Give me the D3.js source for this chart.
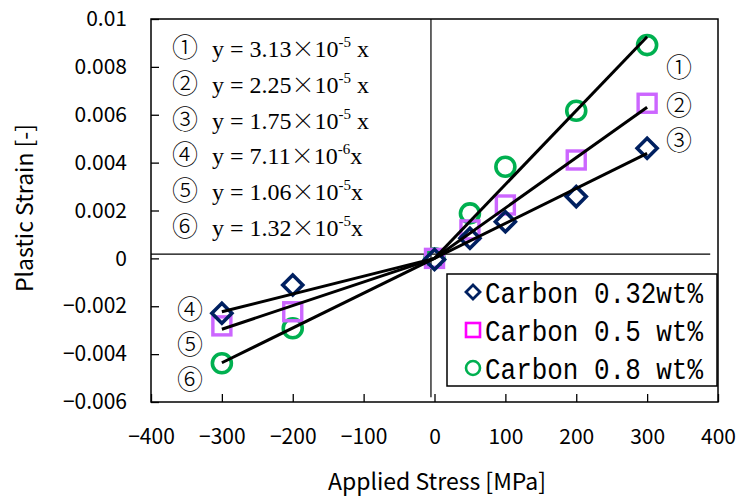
<!DOCTYPE html>
<html><head><meta charset="utf-8">
<script src="https://cdn.jsdelivr.net/npm/d3@7"></script>
<style>body{margin:0;background:#fff}svg{display:block}</style>
</head><body><svg id="c" width="740" height="500"></svg>
<script>
// ---- data ----
const stress = [-300, -200, 0, 50, 100, 200, 300];
const seriesNames = ["Carbon 0.32wt%", "Carbon 0.5 wt%", "Carbon 0.8 wt%"];
const strain032 = [-0.00229, -0.00111, -0.00005, 0.00084, 0.00153, 0.00258, 0.00460];
const strain05  = [-0.00282, -0.00223, 0.0, 0.00119, 0.00223, 0.00411, 0.00648];
const strain08  = [-0.00438, -0.00292, 0.0, 0.00188, 0.00383, 0.00617, 0.00891];
// fit lines (end points)
const fitStartX = [0, 0, 0, -300, -300, -300];
const fitStartY = [0, 0, 0, -0.00223, -0.00296, -0.00436];
const fitEndX   = [300, 300, 300, 0, 0, 0];
const fitEndY   = [0.00926, 0.00631, 0.00439, 0, 0, 0];
const fitLabels = ["①", "②", "③", "④", "⑤", "⑥"];
const fitLabelX = [345, 345, 345, -345, -345, -345];
const fitLabelY = [0.00805, 0.00645, 0.00500, -0.00205, -0.00350, -0.00497];
const eqCoef = ["3.13", "2.25", "1.75", "7.11", "1.06", "1.32"];
const eqExp  = ["-5", "-5", "-5", "-6", "-5", "-5"];
const eqSpace = [true, true, true, false, false, false];
const xTicks = [-400, -300, -200, -100, 0, 100, 200, 300, 400];
const yTicks = [-0.006, -0.004, -0.002, 0, 0.002, 0.004, 0.006, 0.008, 0.01];
const crossX = -5, crossY = 0.00018;
const xTitle = "Applied Stress [MPa]", yTitle = "Plastic Strain [-]";

// ---- chart ----
const svg = d3.select("#c");
const L = 151, R = 718, T = 19, B = 402;
const x = d3.scaleLinear().domain([-400, 400]).range([L, R]);
const y = d3.scaleLinear().domain([-0.006, 0.01]).range([B, T]);
const sans = "'Noto Sans CJK JP', 'Noto Sans', sans-serif";
const cjk = "'Noto Sans CJK JP', 'DejaVu Sans', sans-serif";
const serif = "'Liberation Serif', 'Times New Roman', serif";

// cross lines
svg.append("line").attr("x1", x(-400)).attr("x2", x(389)).attr("y1", y(crossY)).attr("y2", y(crossY))
  .attr("stroke", "#000").attr("stroke-width", 1.2);
svg.append("line").attr("x1", x(crossX)).attr("x2", x(crossX)).attr("y1", y(0.01)).attr("y2", y(-0.0058))
  .attr("stroke", "#000").attr("stroke-width", 1.2);

// axes
const fmtX = d => (d < 0 ? "\u2212" + Math.abs(d) : String(d));
const fmtY = d => d === 0 ? "0" : (d < 0 ? "\u2212" : "") + String(+Math.abs(d).toFixed(3));
const gx = svg.append("g").attr("transform", `translate(0,${B})`)
  .call(d3.axisBottom(x).tickValues(xTicks).tickSize(-8).tickPadding(27).tickFormat(fmtX));
const gy = svg.append("g").attr("transform", `translate(${L},0)`)
  .call(d3.axisLeft(y).tickValues(yTicks).tickSize(-8).tickPadding(24).tickFormat(fmtY));
[gx, gy].forEach(g => {
  g.select(".domain").remove();
  g.selectAll(".tick line").attr("stroke", "#000").attr("stroke-width", 1.3);
  g.selectAll(".tick text").attr("fill", "#000").style("font-family", sans).style("font-size", "21px");
});
// plot frame
svg.append("rect").attr("x", L).attr("y", T).attr("width", R - L).attr("height", B - T)
  .attr("fill", "none").attr("stroke", "#000").attr("stroke-width", 1.5);

// markers
const gm = svg.append("g");
gm.selectAll("circle.c08").data(stress).enter().append("circle")
  .attr("cx", d => x(d)).attr("cy", (d, i) => y(strain08[i])).attr("r", 9.5)
  .attr("fill", "none").attr("stroke", "#00b050").attr("stroke-width", 3.6);
gm.selectAll("rect.s05").data(stress).enter().append("rect")
  .attr("x", d => x(d) - 9).attr("y", (d, i) => y(strain05[i]) - 9).attr("width", 18).attr("height", 18)
  .attr("fill", "none").attr("stroke", "#cc66ff").attr("stroke-width", 3.4);
gm.selectAll("path.d032").data(stress).enter().append("path")
  .attr("d", "M0,-10L10,0L0,10L-10,0Z")
  .attr("transform", (d, i) => `translate(${x(d)},${y(strain032[i])})`)
  .attr("fill", "none").attr("stroke", "#002060").attr("stroke-width", 3.6);

// fit lines
svg.append("g").selectAll("line").data(fitLabels).enter().append("line")
  .attr("x1", (d, i) => x(fitStartX[i])).attr("y1", (d, i) => y(fitStartY[i]))
  .attr("x2", (d, i) => x(fitEndX[i])).attr("y2", (d, i) => y(fitEndY[i]))
  .attr("stroke", "#000").attr("stroke-width", 3);

// line labels
svg.append("g").selectAll("text").data(fitLabels).enter().append("text")
  .attr("x", (d, i) => x(fitLabelX[i])).attr("y", (d, i) => y(fitLabelY[i]))
  .attr("text-anchor", "middle").attr("dominant-baseline", "central")
  .style("font-family", cjk).style("font-size", "26px").style("font-weight", 300)
  .text(d => d);

// equations
fitLabels.forEach((lab, i) => {
  const t = svg.append("text").attr("y", 57 + i * 35.8).style("font-family", serif).style("font-size", "24px").attr("fill", "#000");
  t.append("tspan").attr("x", 172).style("font-family", cjk).style("font-size", "26px").style("font-weight", 300).text(lab);
  t.append("tspan").attr("x", 212).text("y = " + eqCoef[i]);
  t.append("tspan").style("font-family", cjk).style("font-size", "23px").style("font-weight", 300).text("\u00d7");
  t.append("tspan").text("10");
  t.append("tspan").attr("dy", -10).style("font-size", "15px").text(eqExp[i]);
  t.append("tspan").attr("dy", 10).text((eqSpace[i] ? " " : "") + "x");
});

// legend
const lg = svg.append("g");
lg.append("rect").attr("x", 447).attr("y", 274).attr("width", 270).attr("height", 112)
  .attr("fill", "#fff").attr("stroke", "#000").attr("stroke-width", 1.5);
const legY = [292, 330, 368];
lg.append("path").attr("d", "M0,-7L7,0L0,7L-7,0Z").attr("transform", `translate(473,${legY[0]})`)
  .attr("fill", "none").attr("stroke", "#002060").attr("stroke-width", 2.8);
lg.append("rect").attr("x", 466).attr("y", legY[1] - 7).attr("width", 14).attr("height", 14)
  .attr("fill", "none").attr("stroke", "#ff00ff").attr("stroke-width", 2.6);
lg.append("circle").attr("cx", 473).attr("cy", legY[2]).attr("r", 7)
  .attr("fill", "none").attr("stroke", "#00b050").attr("stroke-width", 2.6);
seriesNames.forEach((n, i) => {
  lg.append("text").attr("x", 485).attr("y", legY[i] + 11)
    .attr("textLength", 218).attr("lengthAdjust", "spacingAndGlyphs")
    .style("font-family", "'Liberation Mono', 'DejaVu Sans Mono', monospace").style("font-size", "30px")
    .attr("fill", "#000").text(n);
});

// titles
svg.append("text").attr("x", 437).attr("y", 490).attr("text-anchor", "middle")
  .style("font-family", sans).style("font-size", "23px").text(xTitle);
svg.append("text").attr("transform", "translate(33,208) rotate(-90)").attr("text-anchor", "middle")
  .style("font-family", sans).style("font-size", "23px").text(yTitle);
</script></body></html>
